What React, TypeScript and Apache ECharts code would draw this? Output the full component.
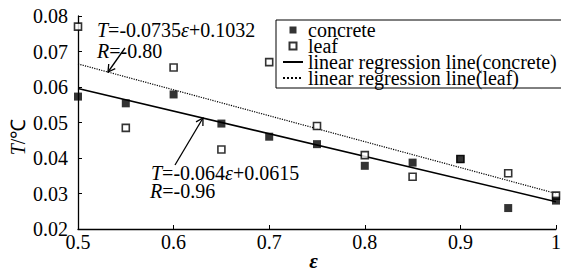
import React, { useEffect, useRef } from "react";
import * as echarts from "echarts";

const emissivity = [0.5, 0.55, 0.6, 0.65, 0.7, 0.75, 0.8, 0.85, 0.9, 0.95, 1.0];
const concreteT = [0.0573, 0.0554, 0.0579, 0.0497, 0.046, 0.0439, 0.0378, 0.0387, 0.0397, 0.0259, 0.028];
const leafT = [0.077, 0.0485, 0.0655, 0.0424, 0.067, 0.049, 0.0408, 0.0347, 0.0397, 0.0357, 0.0294];
const fitX = [0.5, 1.0];
const concreteFit = [0.0596, 0.0277];
const leafFit = [0.0665, 0.03];
const seriesNames = ["concrete", "leaf", "linear regression line(concrete)", "linear regression line(leaf)"];
const leafEquation = ["T", "=-0.0735", "ε", "+0.1032"];
const leafR = "=-0.80";
const concreteEquation = ["T", "=-0.064", "ε", "+0.0615"];
const concreteR = "=-0.96";

const FONT = "Liberation Serif";

function arrow(x1: number, y1: number, x2: number, y2: number) {
  const dx = x1 - x2;
  const dy = y1 - y2;
  const len = Math.hypot(dx, dy);
  const bx = dx / len;
  const by = dy / len;
  const L = 8;
  const a = Math.PI / 6;
  const w1 = [x2 + L * (Math.cos(a) * bx - Math.sin(a) * by), y2 + L * (Math.sin(a) * bx + Math.cos(a) * by)];
  const w2 = [x2 + L * (Math.cos(a) * bx + Math.sin(a) * by), y2 + L * (-Math.sin(a) * bx + Math.cos(a) * by)];
  return [
    { type: "polyline", shape: { points: [[x1, y1], [x2, y2]] }, style: { stroke: "#000", lineWidth: 1.3, fill: "none" } },
    { type: "polyline", shape: { points: [w1, [x2, y2], w2] }, style: { stroke: "#000", lineWidth: 1.3, fill: "none" } },
  ];
}

const rich = {
  i: { fontFamily: FONT, fontStyle: "italic", fontSize: 20, lineHeight: 17, fill: "#000" },
  n: { fontFamily: FONT, fontSize: 20, lineHeight: 17, fill: "#000" },
};

function eqText(parts: string[]) {
  return `{i|${parts[0]}}{n|${parts[1]}}{i|${parts[2]}}{n|${parts[3]}}`;
}

export default function App() {
  const ref = useRef<HTMLDivElement>(null);
  useEffect(() => {
    document.body.style.margin = "0";
    if (!ref.current) return;
    const chart = echarts.init(ref.current, null, { renderer: "svg" });
    const squareIcon = "path://M0,0h1v1h-1z";
    const hiddenSymbol = { color: "rgba(0,0,0,0)", borderWidth: 0 };
    chart.setOption({
      animation: false,
      backgroundColor: "#fff",
      textStyle: { fontFamily: FONT },
      grid: { left: 78, right: 5, top: 16, bottom: 40, containLabel: false, outerBoundsMode: "none" },
      legend: {
        orient: "vertical",
        left: 276,
        top: 20,
        padding: [0, 10, 0, 6],
        itemGap: -4,
        itemWidth: 20,
        itemHeight: 7,
        borderColor: "#000",
        borderWidth: 1,
        backgroundColor: "#fff",
        textStyle: { fontFamily: FONT, fontSize: 20, color: "#000", lineHeight: 16 },
        data: [
          { name: seriesNames[0], icon: squareIcon },
          { name: seriesNames[1], icon: squareIcon },
          { name: seriesNames[2], itemStyle: hiddenSymbol },
          { name: seriesNames[3], itemStyle: hiddenSymbol },
        ],
      },
      xAxis: {
        type: "value",
        min: 0.5,
        max: 1,
        interval: 0.1,
        name: "ε",
        nameLocation: "middle",
        nameGap: 24,
        nameMoveOverlap: false,
        nameTextStyle: {
          fontFamily: FONT,
          fontSize: 21,
          lineHeight: 15,
          fontStyle: "italic",
          fontWeight: "bold",
          color: "#000",
          padding: [0, 7, 0, 0],
        },
        axisLine: { lineStyle: { color: "#000", width: 1.3 } },
        axisTick: { inside: true, length: 4, lineStyle: { color: "#000" } },
        axisLabel: {
          fontFamily: FONT,
          fontSize: 20,
          color: "#000",
          margin: 3,
          formatter: (v: number) => (Math.abs(v - 1) < 1e-9 ? "1" : v.toFixed(1)),
        },
        splitLine: { show: false },
      },
      yAxis: {
        type: "value",
        min: 0.02,
        max: 0.08,
        interval: 0.01,
        axisLine: { show: true, lineStyle: { color: "#000", width: 1.3 } },
        axisTick: { show: true, inside: true, length: 4, lineStyle: { color: "#000" } },
        axisLabel: { fontFamily: FONT, fontSize: 20, color: "#000", margin: 10, formatter: (v: number) => v.toFixed(2) },
        splitLine: { show: false },
      },
      series: [
        {
          name: seriesNames[0],
          type: "scatter",
          symbol: "rect",
          symbolSize: 8,
          clip: false,
          z: 4,
          itemStyle: { color: "#000" },
          data: emissivity.map((x, i) => [x, concreteT[i]]),
        },
        {
          name: seriesNames[1],
          type: "scatter",
          symbol: "rect",
          symbolSize: 7,
          clip: false,
          z: 3,
          itemStyle: { color: "#fff", borderColor: "#000", borderWidth: 1.6 },
          data: emissivity.map((x, i) => [x, leafT[i]]),
        },
        {
          name: seriesNames[2],
          type: "line",
          symbol: "none",
          z: 2,
          itemStyle: { color: "#000" },
          lineStyle: { color: "#000", width: 1.6, type: "solid" },
          data: fitX.map((x, i) => [x, concreteFit[i]]),
        },
        {
          name: seriesNames[3],
          type: "line",
          symbol: "none",
          z: 2,
          itemStyle: { color: "#000" },
          lineStyle: { color: "#000", width: 1.2, type: "dotted" },
          data: fitX.map((x, i) => [x, leafFit[i]]),
        },
      ],
      graphic: [
        {
          type: "text",
          x: 18,
          y: 137,
          rotation: Math.PI / 2,
          style: { text: "{i|T}{n|/℃}", rich, align: "center", verticalAlign: "middle" },
        },
        { type: "text", x: 97, y: 30, style: { text: eqText(leafEquation), rich, verticalAlign: "middle" } },
        { type: "text", x: 97, y: 51, style: { text: `{i|R}{n|${leafR}}`, rich, verticalAlign: "middle" } },
        { type: "text", x: 151, y: 173, style: { text: eqText(concreteEquation), rich, verticalAlign: "middle" } },
        { type: "text", x: 150, y: 191, style: { text: `{i|R}{n|${concreteR}}`, rich, verticalAlign: "middle" } },
        ...arrow(125, 48, 108, 72),
        ...arrow(175, 165, 203, 118),
      ],
    });
    return () => chart.dispose();
  }, []);
  return <div ref={ref} style={{ width: 561, height: 269 }} />;
}
